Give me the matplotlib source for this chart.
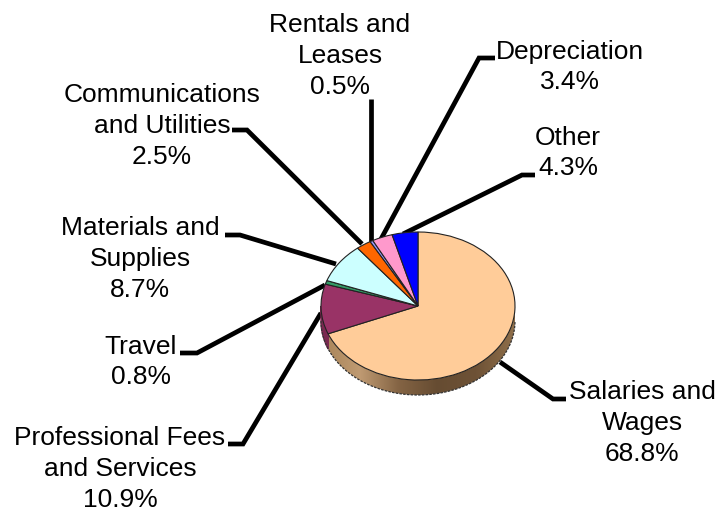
import numpy as np
import matplotlib
matplotlib.use("Agg")
import matplotlib.pyplot as plt
from matplotlib.patches import PathPatch
from matplotlib.path import Path

plt.rcParams["font.family"] = ["Liberation Sans", "DejaVu Sans"]

labels = [
    "Salaries and\nWages",
    "Professional Fees\nand Services",
    "Travel",
    "Materials and\nSupplies",
    "Communications\nand Utilities",
    "Rentals and\nLeases",
    "Depreciation",
    "Other",
]
shares = [68.8, 10.9, 0.8, 8.7, 2.5, 0.5, 3.4, 4.3]
colors = ["#FFCC99", "#993366", "#339966", "#CCFFFF", "#FF6600", "#9999FF", "#FF99CC", "#0000FF"]

W, H = 718, 510
cx, cy = 418, 307  # pie centre, px
rx, ry = 97, 74
depth = 15

# label centre and leader line, in px
label_xy = [(642, 423), (120, 469), (141, 362), (140, 259), (162, 126), (340, 56), (570, 67), (568, 153)]
leaders = [
    [(500, 363), (553, 400), (566, 400)],
    [(321, 314), (243, 445), (228, 445)],
    [(325, 286), (197, 354), (180, 354)],
    [(336, 265), (240, 236), (225, 236)],
    [(362, 245), (247, 131), (232, 131)],
    [(371, 243), (371, 100)],
    [(381, 240), (479, 59), (495, 59)],
    [(403, 235), (522, 176), (535, 176)],
]

fig = plt.figure(figsize=(W / 100, H / 100), dpi=100)
ax = fig.add_axes([0, 0, 1, 1])
ax.set_xlim(0, W)
ax.set_ylim(H, 0)
ax.axis("off")

# pie axes, stretched so the circle comes out as a flat ellipse
pad = 1.3
pie_ax = fig.add_axes([(cx - pad * rx) / W, 1 - (cy + pad * ry) / H, 2 * pad * rx / W, 2 * pad * ry / H])
pie_ax.set_zorder(2)

# side wall of the pie, lower half only
th = np.linspace(np.pi, 2 * np.pi, 200)
dy = depth / ry
px = np.concatenate([np.cos(th), np.cos(th[::-1])])
py = np.concatenate([np.sin(th) - dy, np.sin(th[::-1])])
wall = PathPatch(Path(np.column_stack([px, py])), facecolor="none", edgecolor="none")
pie_ax.add_patch(wall)
ramp = np.linspace(0, 1, 256).reshape(1, -1)
cmap = matplotlib.colors.LinearSegmentedColormap.from_list(
    "wall", ["#A88458", "#BF9A72", "#846444", "#664C32", "#6E5236", "#8F6F4A"]
)
img = pie_ax.imshow(ramp, extent=[-1, 1, -1 - dy, 0], cmap=cmap, aspect="auto", zorder=1)
img.set_clip_path(wall)

# the part of the wall below the second slice is that slice's colour, darker
a0 = np.radians(90 - shares[0] * 3.6)
th2 = np.linspace(np.pi, a0 + 2 * np.pi, 40)
px2 = np.concatenate([np.cos(th2), np.cos(th2[::-1])])
py2 = np.concatenate([np.sin(th2) - dy, np.sin(th2[::-1])])
pie_ax.fill(px2, py2, color="#7A2850", zorder=2)
pie_ax.plot(np.cos(th), np.sin(th) - dy, color="#333333", lw=0.9, ls=(0, (2, 1)), zorder=3)

wedges, _ = pie_ax.pie(
    shares,
    colors=colors,
    startangle=90,
    counterclock=False,
    radius=1,
    wedgeprops={"edgecolor": "#222222", "linewidth": 0.8, "zorder": 4},
)
pie_ax.set_aspect("auto")
pie_ax.set_xlim(-pad, pad)
pie_ax.set_ylim(-pad, pad)

for pts in leaders:
    xs, ys = zip(*pts)
    ax.plot(xs, ys, color="black", lw=3.4, solid_joinstyle="miter", solid_capstyle="butt")

for name, val, (x, y) in zip(labels, shares, label_xy):
    ax.text(x, y, f"{name}\n{val}%", ha="center", va="center", fontsize=19, linespacing=1.35, color="black")

fig.savefig("out.png", dpi=100, facecolor="white")
